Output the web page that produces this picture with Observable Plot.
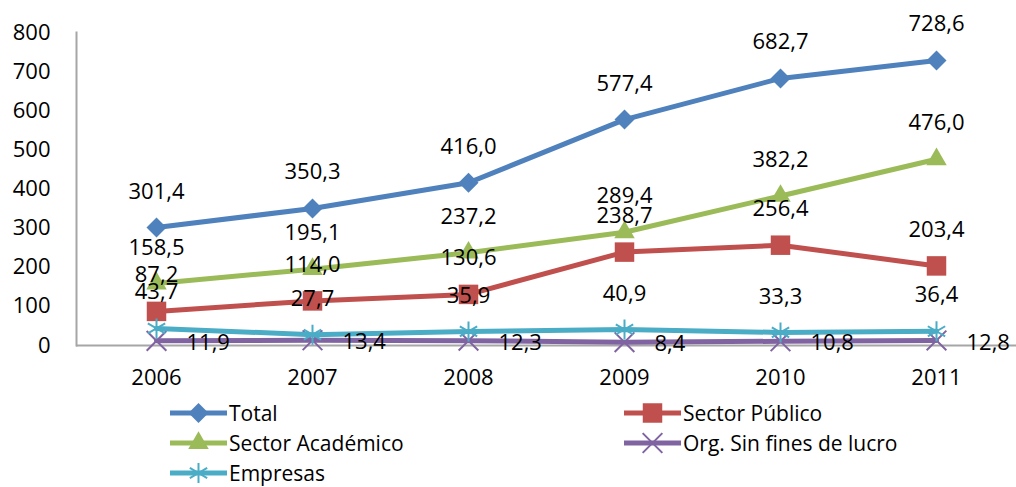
<!DOCTYPE html>
<html>
<head>
<meta charset="utf-8">
<script src="https://cdn.jsdelivr.net/npm/d3@7"></script>
<script src="https://cdn.jsdelivr.net/npm/@observablehq/plot@0.6"></script>
<style>
  body { margin: 0; background: #fff; font-family: "Open Sans", sans-serif; }
  #wrap { position: relative; width: 1016px; height: 487px; overflow: hidden; }
  #legend { position: absolute; left: 170px; top: 398px; display: grid;
            grid-template-columns: 454px 380px; grid-auto-rows: 30px;
            font-size: 21px; line-height: 26px; color: #000; }
  .item { display: flex; align-items: center; white-space: nowrap; }
  .item svg { margin-right: 2px; }
</style>
</head>
<body>
<div id="wrap"><div id="chart"></div><div id="legend"></div></div>
<script>
const years = ["2006", "2007", "2008", "2009", "2010", "2011"];
const seriesNames = ["Total", "Sector Público", "Sector Académico", "Org. Sin fines de lucro", "Empresas"];
const total      = [301.4, 350.3, 416.0, 577.4, 682.7, 728.6];
const publico    = [87.2, 114.0, 130.6, 238.7, 256.4, 203.4];
const academico  = [158.5, 195.1, 237.2, 289.4, 382.2, 476.0];
const orgSinFines = [11.9, 13.4, 12.3, 8.4, 10.8, 12.8];
const empresas   = [43.7, 27.7, 35.9, 40.9, 33.3, 36.4];
const yTicks = [0, 100, 200, 300, 400, 500, 600, 700, 800];

const seriesValues = [total, publico, academico, orgSinFines, empresas];
const colors = ["#4F81BD", "#C0504D", "#9BBB59", "#8064A2", "#4BACC6"];
const symbols = ["diamond2", "square", "triangle", "times", "asterisk"];
const symbolR = [9, 11, 7.6, 9, 9.5];
const filled = [true, true, true, false, false];

const data = [];
seriesNames.forEach((name, i) => {
  years.forEach((yr, j) => data.push({series: name, idx: i, year: yr, value: seriesValues[i][j]}));
});
const fmt = v => v.toFixed(1).replace(".", ",");

const drawOrder = [0, 1, 2, 3, 4];
const marks = [
  Plot.ruleY([0], {stroke: "#A6A6A6", strokeWidth: 2}),
  Plot.frame({anchor: "left", stroke: "#A6A6A6", strokeWidth: 2}),
  Plot.axisY({ticks: yTicks, tickSize: 0, tickPadding: 26, tickFormat: d => String(d), fill: "#000"}),
  Plot.axisX({tickSize: 0, tickPadding: 24, fill: "#000"})
];
drawOrder.forEach(i => {
  const d = data.filter(r => r.idx === i);
  marks.push(Plot.line(d, {x: "year", y: "value", stroke: colors[i], strokeWidth: 5}));
  marks.push(Plot.dot(d, {x: "year", y: "value", symbol: () => symbols[i], r: symbolR[i],
    fill: filled[i] ? colors[i] : "none", stroke: filled[i] ? "none" : colors[i], strokeWidth: 2}));
});
drawOrder.forEach(i => {
  const d = data.filter(r => r.idx === i);
  if (i === 3) {
    marks.push(Plot.text(d, {x: "year", y: "value", text: r => fmt(r.value), textAnchor: "start", dx: 30, dy: 2, fill: "#000"}));
  } else {
    marks.push(Plot.text(d, {x: "year", y: "value", text: r => fmt(r.value), dy: -36, fill: "#000"}));
  }
});

const chart = Plot.plot({
  width: 1016, height: 395,
  marginLeft: 76, marginRight: 0, marginTop: 32, marginBottom: 50,
  style: {fontFamily: "'Open Sans', sans-serif", fontSize: "22px", color: "#000", background: "#fff", overflow: "visible"},
  x: {type: "point", domain: years, padding: 0.5, label: null},
  y: {domain: [0, 800], label: null},
  symbol: {type: "identity"},
  marks
});
document.getElementById("chart").appendChild(chart);

// Legend
const legend = d3.select("#legend");
const legendOrder = [0, 1, 2, 3, 4];
const d3sym = {diamond2: d3.symbolDiamond2, square: d3.symbolSquare, triangle: d3.symbolTriangle, times: d3.symbolTimes, asterisk: d3.symbolAsterisk};
legendOrder.forEach(i => {
  const it = legend.append("div").attr("class", "item");
  const s = it.append("svg").attr("width", 57).attr("height", 26);
  s.append("line").attr("x1", 0).attr("x2", 57).attr("y1", 13).attr("y2", 13)
    .attr("stroke", colors[i]).attr("stroke-width", 5).attr("stroke-linecap", "round");
  const size = Math.PI * symbolR[i] * symbolR[i];
  s.append("path").attr("transform", "translate(28.5,13)")
    .attr("d", d3.symbol(d3sym[symbols[i]], size)())
    .attr("fill", filled[i] ? colors[i] : "none")
    .attr("stroke", filled[i] ? "none" : colors[i]).attr("stroke-width", 2);
  it.append("span").text(seriesNames[i]);
});
</script>
</body>
</html>
